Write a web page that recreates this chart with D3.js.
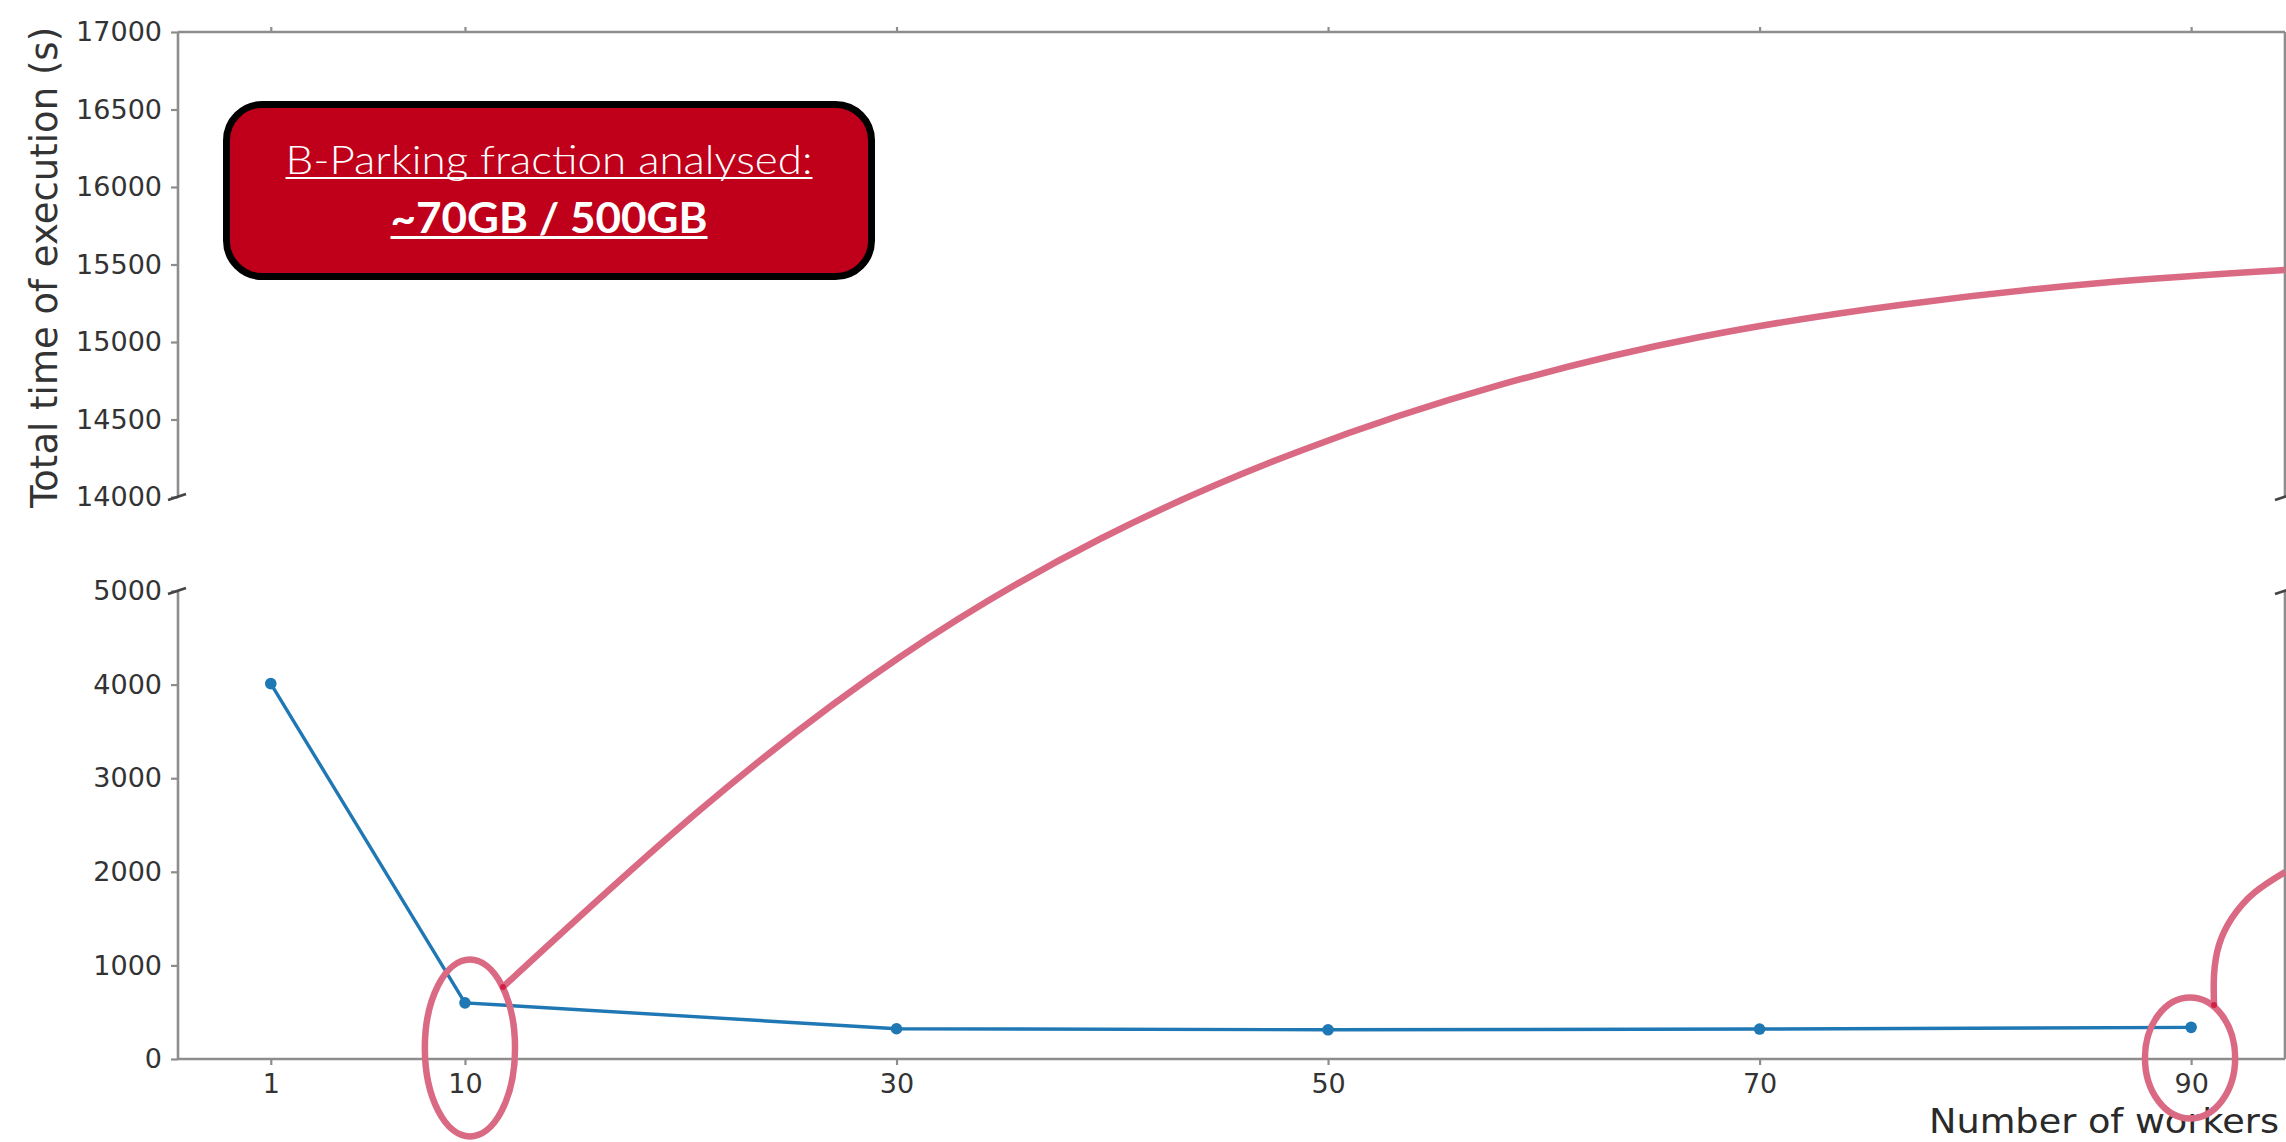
<!DOCTYPE html>
<html><head><meta charset="utf-8">
<script src="https://cdn.jsdelivr.net/npm/d3@7"></script>
<style>html,body{margin:0;padding:0;background:#fff;overflow:hidden}</style>
</head><body>
<svg id="chart" width="2286" height="1142"></svg>
<script>
// ---------- data ----------
const workers = [1, 10, 30, 50, 70, 90];
const execTime = [4010, 600, 323, 312, 320, 338];
const xTickValues = [1, 10, 30, 50, 70, 90];
const yTopTickValues = [14000, 14500, 15000, 15500, 16000, 16500, 17000];
const yBottomTickValues = [0, 1000, 2000, 3000, 4000, 5000];
const boxTitle = "B-Parking fraction analysed:";
const boxValue = "~70GB / 500GB";
const xLabel = "Number of workers";
const yLabel = "Total time of execution (s)";
// hand-drawn highlight annotations, in data coordinates (workers, seconds)
const ringX = [10.23, 89.95];
const ringY = [118, 11];
const ringRx = [2.09, 2.09];
const ringRy = [945, 646];
const arrowLongX = [11.76, 20.89, 30.16, 39.43, 48.70, 57.97, 67.24, 76.51, 85.78, 94.35];
const arrowLongY = [769, 2660, 4295, 9978, 14297, 14723, 15032, 15239, 15381, 15465];
const arrowShortX = [91.06, 91.06, 91.29, 91.89, 92.91, 94.35];
const arrowShortY = [577, 897, 1218, 1506, 1774, 1998];

// ---------- layout ----------
const svg = d3.select("#chart");
const x = d3.scaleLinear().domain([-3.3, 94.35]).range([178, 2285]);
const yTop = d3.scaleLinear().domain([14000, 17000]).range([497, 32]);
const yBot = d3.scaleLinear().domain([0, 5000]).range([1059, 591]);
const yAll = d3.scaleLinear().domain([0, 5000, 14000, 17000]).range([1059, 591, 497, 32]);

const spineColor = "#8d8d8d";
const textColor = "#333";
const font = "DejaVu Sans, sans-serif";
const pink = "#da6a83";
const fmt = d3.format("d");

const [xl, xr] = x.range();

function styleAxis(g, size) {
  g.select(".domain").remove();
  g.selectAll(".tick line").attr("stroke", spineColor).attr("stroke-width", 2.2);
  g.selectAll(".tick text").attr("fill", textColor).style("font-family", font).style("font-size", size + "px");
}

// y axes
svg.append("g").attr("transform", `translate(${xl},0)`)
  .call(d3.axisLeft(yTop).tickValues(yTopTickValues).tickFormat(fmt).tickSize(7).tickPadding(9).tickSizeOuter(0))
  .call(g => styleAxis(g, 27));
svg.append("g").attr("transform", `translate(${xl},0)`)
  .call(d3.axisLeft(yBot).tickValues(yBottomTickValues).tickFormat(fmt).tickSize(7).tickPadding(9).tickSizeOuter(0))
  .call(g => styleAxis(g, 27));
// x axes
svg.append("g").attr("transform", `translate(0,${yTop.range()[1]})`)
  .call(d3.axisTop(x).tickValues(xTickValues).tickSize(5).tickFormat("").tickSizeOuter(0))
  .call(g => styleAxis(g, 27));
svg.append("g").attr("transform", `translate(0,${yBot.range()[0]})`)
  .call(d3.axisBottom(x).tickValues(xTickValues).tickFormat(fmt).tickSize(6).tickPadding(9).tickSizeOuter(0))
  .call(g => styleAxis(g, 27));

// spines
const spines = [
  [xl, yTop.range()[1], xr, yTop.range()[1]],
  [xl, yTop.range()[1], xl, yTop.range()[0]],
  [xr, yTop.range()[1], xr, yTop.range()[0]],
  [xl, yBot.range()[0], xr, yBot.range()[0]],
  [xl, yBot.range()[1], xl, yBot.range()[0]],
  [xr, yBot.range()[1], xr, yBot.range()[0]]
];
svg.append("g").selectAll("line").data(spines).join("line")
  .attr("x1", d => d[0]).attr("y1", d => d[1]).attr("x2", d => d[2]).attr("y2", d => d[3])
  .attr("stroke", spineColor).attr("stroke-width", 2.6);

// break marks
const breaks = [[xl, yTop.range()[0]], [xr, yTop.range()[0]], [xl, yBot.range()[1]], [xr, yBot.range()[1]]];
svg.append("g").selectAll("line").data(breaks).join("line")
  .attr("x1", d => d[0] - 10).attr("y1", d => d[1] + 3)
  .attr("x2", d => d[0] + 8).attr("y2", d => d[1] - 3)
  .attr("stroke", "#444").attr("stroke-width", 2.6);

// data line
const pts = workers.map((w, i) => [w, execTime[i]]);
svg.append("path").datum(pts)
  .attr("d", d3.line().x(d => x(d[0])).y(d => yBot(d[1])))
  .attr("fill", "none").attr("stroke", "#1f77b4").attr("stroke-width", 3.4);
svg.append("g").selectAll("circle").data(pts).join("circle")
  .attr("cx", d => x(d[0])).attr("cy", d => yBot(d[1])).attr("r", 5.8).attr("fill", "#1f77b4");

// labels
svg.append("text").text(yLabel)
  .attr("transform", `translate(57,${(yTop.range()[0] + yTop.range()[1]) / 2 + 3}) rotate(-90)`)
  .attr("text-anchor", "middle").attr("fill", textColor)
  .style("font-family", font).style("font-size", "37px");
svg.append("text").text(xLabel)
  .attr("x", 2279).attr("y", 1133).attr("text-anchor", "end").attr("fill", "#2a2a2a")
  .attr("textLength", 350).attr("lengthAdjust", "spacingAndGlyphs")
  .style("font-family", font).style("font-size", "34.5px");

// annotations: rings
svg.append("g").selectAll("ellipse").data(ringX).join("ellipse")
  .attr("cx", (d, i) => x(d)).attr("cy", (d, i) => yAll(ringY[i]))
  .attr("rx", (d, i) => x(d + ringRx[i]) - x(d))
  .attr("ry", (d, i) => yAll(ringY[i]) - yAll(ringY[i] + ringRy[i]))
  .attr("fill", "none").attr("stroke", pink).attr("stroke-width", 6.5);

// annotations: curved connectors
const curveLine = d3.line().curve(d3.curveNatural).x(d => x(d[0])).y(d => yAll(d[1]));
[[arrowLongX, arrowLongY], [arrowShortX, arrowShortY]].forEach(([ax, ay]) => {
  const p = ax.map((v, i) => [v, ay[i]]);
  svg.append("path").datum(p).attr("d", curveLine)
    .attr("fill", "none").attr("stroke", pink).attr("stroke-width", 6.5).attr("stroke-linecap", "butt");
  svg.append("circle").attr("cx", x(p[0][0])).attr("cy", yAll(p[0][1])).attr("r", 3).attr("fill", "#d21f45");
});

// annotation box
const box = { x: 226.5, y: 104.5, w: 645, h: 172, r: 36 };
svg.append("rect").attr("x", box.x).attr("y", box.y).attr("width", box.w).attr("height", box.h)
  .attr("rx", box.r).attr("ry", box.r)
  .attr("fill", "#c0001b").attr("stroke", "#000").attr("stroke-width", 7);
const cx = box.x + box.w / 2;
const lines = [
  { t: boxTitle, y: 174, size: 40, weight: 300, len: 527, uy: 178, uw: 2.2 },
  { t: boxValue, y: 233, size: 42, weight: 700, len: 317, uy: 237.5, uw: 3 }
];
lines.forEach(l => {
  svg.append("text").text(l.t).attr("x", cx).attr("y", l.y).attr("text-anchor", "middle")
    .attr("fill", "#fff").attr("textLength", l.len).attr("lengthAdjust", "spacingAndGlyphs")
    .style("font-family", "Lato, sans-serif").style("font-size", l.size + "px").style("font-weight", l.weight);
  svg.append("line").attr("x1", cx - l.len / 2).attr("x2", cx + l.len / 2)
    .attr("y1", l.uy).attr("y2", l.uy).attr("stroke", "#fff").attr("stroke-width", l.uw);
});
</script>
</body></html>
